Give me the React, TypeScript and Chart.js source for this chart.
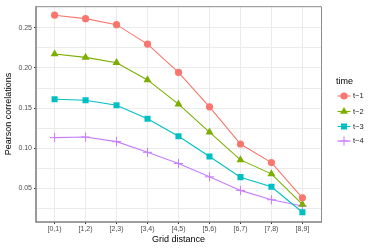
import React, { useEffect, useRef } from 'react';
import { Chart, registerables } from 'chart.js';
import { drawPoint } from 'chart.js/helpers';
Chart.register(...registerables);

const categories = ['[0,1)', '[1,2)', '[2,3)', '[3,4)', '[4,5)', '[5,6)', '[6,7)', '[7,8)', '[8,9]'];
const seriesNames = ['t\u22121', 't\u22122', 't\u22123', 't\u22124'];
const t1 = [0.2658, 0.2615, 0.254, 0.2298, 0.1945, 0.1516, 0.1052, 0.0821, 0.0382];
const t2 = [0.2174, 0.2132, 0.2066, 0.1851, 0.1549, 0.12, 0.0854, 0.068, 0.03];
const t3 = [0.161, 0.1598, 0.1536, 0.1367, 0.1148, 0.0896, 0.0639, 0.0519, 0.0201];
const t4 = [0.1132, 0.1139, 0.1082, 0.0949, 0.0809, 0.0643, 0.0474, 0.0357, 0.0279];
const yMajor = [0.05, 0.1, 0.15, 0.2, 0.25];
const yMinor = [0.025, 0.075, 0.125, 0.175, 0.225];

const colors = ['#F8766D', '#7CAE00', '#00BFC4', '#C77CFF'];
const styles = ['circle', 'triangle', 'rect', 'cross'];
const radii = [3.6, 4.6, 4.3, 4.6];
const FONT = "'Liberation Sans', Arial, sans-serif";

export default function App() {
  const ref = useRef<HTMLCanvasElement>(null);
  useEffect(() => {
    if (!ref.current) return;
    const all = [t1, t2, t3, t4];
    const panelPlugin = {
      id: 'panel',
      afterDraw(chart: any) {
        const { ctx, chartArea: a } = chart;
        ctx.save();
        ctx.strokeStyle = '#8c8c8c';
        ctx.lineWidth = 1;
        ctx.beginPath();
        ctx.moveTo(a.left, a.top + 0.5);
        ctx.lineTo(a.right + 0.5, a.top + 0.5);
        ctx.lineTo(a.right + 0.5, a.bottom);
        ctx.stroke();
        ctx.strokeStyle = '#808080';
        ctx.lineWidth = 1.6;
        ctx.beginPath();
        ctx.moveTo(a.left, a.top);
        ctx.lineTo(a.left, a.bottom);
        ctx.lineTo(a.right + 1, a.bottom);
        ctx.stroke();
        // legend
        ctx.fillStyle = '#000';
        ctx.font = `9px ${FONT}`;
        ctx.textBaseline = 'middle';
        ctx.textAlign = 'left';
        ctx.fillText('time', 336, 82);
        const ys = [96, 111.5, 126.5, 141];
        ctx.font = `7.5px ${FONT}`;
        for (let i = 0; i < 4; i++) {
          const y = ys[i];
          ctx.strokeStyle = colors[i];
          ctx.fillStyle = colors[i];
          ctx.lineWidth = 1.1;
          ctx.beginPath();
          ctx.moveTo(337.5, y);
          ctx.lineTo(350.5, y);
          ctx.stroke();
          ctx.lineWidth = i === 3 ? 1 : 0;
          drawPoint(ctx, { pointStyle: styles[i], radius: radii[i], borderWidth: i === 3 ? 1 : 0, rotation: 0 } as any, 344, y);
          ctx.fillStyle = '#1a1a1a';
          ctx.fillText(seriesNames[i], 353, y);
        }
        ctx.restore();
      },
    };
    const chart = new Chart(ref.current, {
      type: 'line',
      data: {
        datasets: all.map((vals, i) => ({
          label: seriesNames[i],
          data: vals.map((v, j) => ({ x: j, y: v })),
          borderColor: colors[i],
          backgroundColor: colors[i],
          borderWidth: 1.1,
          pointStyle: styles[i] as any,
          pointRadius: radii[i],
          pointBackgroundColor: colors[i],
          pointBorderColor: colors[i],
          pointBorderWidth: i === 3 ? 1 : 0,
          tension: 0,
        })),
      },
      options: {
        animation: false,
        responsive: true,
        maintainAspectRatio: false,
        layout: { padding: { top: 5, right: 53, left: 0, bottom: 0 } },
        plugins: { legend: { display: false }, tooltip: { enabled: false } },
        scales: {
          x: {
            type: 'linear',
            min: -0.6,
            max: 8.6,
            afterBuildTicks: (s: any) => {
              s.ticks = categories.map((_, i) => ({ value: i }));
            },
            afterFit: (s: any) => {
              s.height = 27;
            },
            ticks: {
              callback: (v: any) => categories[v] ?? '',
              font: { size: 7, family: FONT },
              color: '#4D4D4D',
              padding: 1,
              maxRotation: 0,
              autoSkip: false,
            },
            grid: { color: '#EBEBEB', tickLength: 2, tickColor: '#333' },
            border: { display: false },
            title: {
              display: true,
              text: 'Grid distance',
              font: { size: 9, family: FONT },
              color: '#000',
              padding: { top: 0, bottom: 3.6 },
            },
          },
          y: {
            type: 'linear',
            min: 0.008,
            max: 0.277,
            afterBuildTicks: (s: any) => {
              s.ticks = [...yMajor, ...yMinor]
                .filter((v) => v >= 0.008 && v <= 0.277)
                .sort((a, b) => a - b)
                .map((v) => ({ value: v }));
            },
            afterFit: (s: any) => {
              s.width = 36;
            },
            ticks: {
              callback: (v: any) => (yMajor.some((m) => Math.abs(m - v) < 1e-6) ? Number(v).toFixed(2) : ''),
              font: { size: 7, family: FONT },
              color: '#4D4D4D',
              padding: 2,
            },
            grid: {
              color: '#EBEBEB',
              tickLength: 2,
              tickColor: (c: any) =>
                c.tick && yMajor.some((m) => Math.abs(m - c.tick.value) < 1e-6) ? '#333' : 'rgba(0,0,0,0)',
            },
            border: { display: false },
            title: {
              display: true,
              text: 'Pearson correlations',
              font: { size: 9, family: FONT },
              color: '#000',
              padding: { top: 3.6, bottom: 0 },
            },
          },
        },
      },
      plugins: [panelPlugin],
    });
    return () => chart.destroy();
  }, []);
  return (
    <div style={{ position: 'fixed', left: 0, top: 0, width: 374, height: 249, background: '#fff' }}>
      <canvas ref={ref} />
    </div>
  );
}
